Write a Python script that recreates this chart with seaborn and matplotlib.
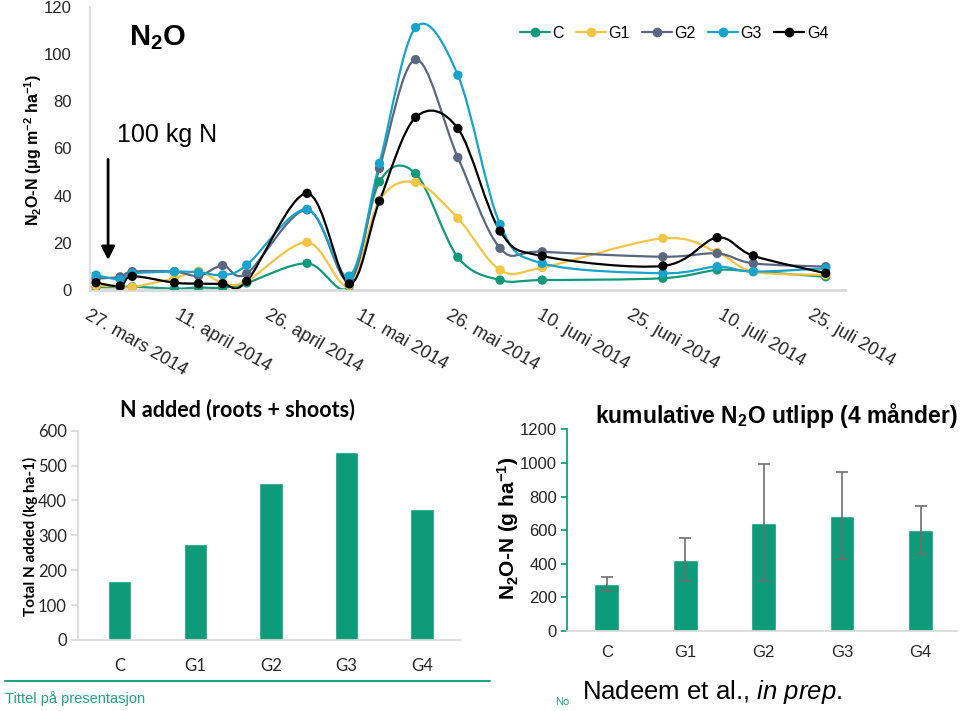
import numpy as np
import pandas as pd
import matplotlib
matplotlib.use("Agg")
from matplotlib import pyplot as plt
from matplotlib.path import Path
from matplotlib.patches import PathPatch
from matplotlib.lines import Line2D
import seaborn as sns

# ---- data ----
sample_dates = ["2014-03-28", "2014-04-01", "2014-04-03", "2014-04-10", "2014-04-14", "2014-04-18",
                "2014-04-22", "2014-05-02", "2014-05-09", "2014-05-14", "2014-05-20", "2014-05-27",
                "2014-06-03", "2014-06-10", "2014-06-30", "2014-07-09", "2014-07-15", "2014-07-27"]
flux_C = [1.2, 1.2, 1.4, 0.6, 1.0, 1.0, 3.0, 11.3, 1.5, 45.9, 49.4, 13.9, 4.2, 4.2, 5.0, 8.5, 7.8, 5.6]
flux_G1 = [1.8, 1.5, 1.2, 5.0, 8.0, 3.0, 3.8, 20.2, 2.0, 38.0, 45.6, 30.4, 8.5, 9.5, 21.9, 16.0, 7.8, 6.4]
flux_G2 = [4.8, 5.6, 7.8, 7.8, 6.0, 10.4, 7.0, 34.0, 4.2, 51.6, 97.7, 56.2, 17.7, 16.2, 14.1, 15.5, 11.3, 9.9]
flux_G3 = [6.3, 4.5, 7.0, 7.8, 7.5, 6.4, 10.6, 34.2, 5.9, 53.7, 111.3, 91.1, 27.8, 11.3, 7.1, 9.9, 7.8, 9.2]
flux_G4 = [3.1, 1.7, 5.8, 3.1, 2.7, 2.7, 3.7, 41.0, 2.6, 37.7, 73.2, 68.5, 25.0, 14.4, 10.2, 22.2, 14.5, 7.1]

tick_dates = ["2014-03-27", "2014-04-11", "2014-04-26", "2014-05-11", "2014-05-26",
              "2014-06-10", "2014-06-25", "2014-07-10", "2014-07-25"]
tick_labels = ["27. mars 2014", "11. april 2014", "26. april 2014", "11. mai 2014", "26. mai 2014",
               "10. juni 2014", "25. juni 2014", "10. juli 2014", "25. juli 2014"]

treatments = ["C", "G1", "G2", "G3", "G4"]
n_added = [170, 275, 450, 540, 375]
n2o_cum = [280, 425, 645, 685, 600]
n2o_err = [40, 130, 348, 258, 143]

colors = {"C": "#12997a", "G1": "#f5c444", "G2": "#5a6780", "G3": "#17a3cb", "G4": "#000000"}
teal = "#0e9b7a"
axis_grey = "#d9d9d9"

sns.set_theme(style="white")
plt.rcParams["font.family"] = ["Liberation Sans", "DejaVu Sans"]
plt.rcParams["mathtext.fontset"] = "custom"
plt.rcParams["mathtext.rm"] = "Liberation Sans"
plt.rcParams["mathtext.bf"] = "Liberation Sans:bold"
plt.rcParams["mathtext.it"] = "Liberation Sans:italic"
plt.rcParams["text.color"] = "black"

start = pd.Timestamp("2014-03-27")
days = (pd.to_datetime(sample_dates) - start).days.to_numpy()
tick_days = (pd.to_datetime(tick_dates) - start).days.to_numpy()

series = {"C": flux_C, "G1": flux_G1, "G2": flux_G2, "G3": flux_G3, "G4": flux_G4}
df = pd.concat([pd.DataFrame({"day": days, "flux": v, "treatment": k}) for k, v in series.items()])


def smooth_path(x, y):
    # Excel-style smoothed line: Catmull-Rom segments as cubic Bezier curves
    pts = np.column_stack([x, y]).astype(float)
    ext = np.vstack([pts[0], pts, pts[-1]])
    verts, codes = [pts[0]], [Path.MOVETO]
    for i in range(len(pts) - 1):
        p0, p1, p2, p3 = ext[i], ext[i + 1], ext[i + 2], ext[i + 3]
        verts += [p1 + (p2 - p0) / 6, p2 - (p3 - p1) / 6, p2]
        codes += [Path.CURVE4] * 3
    return Path(verts, codes)


fig = plt.figure(figsize=(9.6, 7.11), dpi=100)

# ---------- top: N2O flux time series ----------
ax = fig.add_axes([90 / 960, 1 - 290 / 711, 755 / 960, 283 / 711])
for k, v in series.items():
    ax.add_patch(PathPatch(smooth_path(days, v), facecolor="none", edgecolor=colors[k], lw=1.6, zorder=2))
sns.scatterplot(data=df, x="day", y="flux", hue="treatment", palette=colors, s=45,
                edgecolor="none", legend=False, ax=ax, zorder=3)
ax.set_xlim(0, 125.2)
ax.set_ylim(0, 120)
ax.set_yticks(range(0, 121, 20))
ax.set_xticks(tick_days)
ax.set_xticklabels(tick_labels, rotation=-30, ha="left", va="top", rotation_mode="anchor", fontsize=13)
ax.tick_params(axis="x", length=0, pad=12)
ax.tick_params(axis="y", length=0, pad=13, labelsize=12)
ax.set_xlabel("")
ax.set_ylabel("")
for s in ["top", "right"]:
    ax.spines[s].set_visible(False)
ax.spines["left"].set_color(axis_grey)
ax.spines["bottom"].set_color(axis_grey)
ax.spines["bottom"].set_linewidth(2)
ax.annotate("", xy=(3, 11.5), xytext=(3, 56.5),
            arrowprops=dict(arrowstyle="-|>", color="black", lw=2, mutation_scale=20))

handles = [Line2D([], [], color=colors[t], marker="o", markersize=6, lw=1.6) for t in treatments]
fig.legend(handles, treatments, loc="center", bbox_to_anchor=(674 / 960, 1 - 33 / 711), ncol=5,
           frameon=False, fontsize=11.5, handlelength=1.9, handletextpad=0.15, columnspacing=0.75)

fig.text(33 / 960, 1 - 150 / 711, "N$_\\mathbf{2}$O-N (μg m$^\\mathbf{-2}$ ha$^\\mathbf{-1}$)",
         rotation=90, ha="center", va="center", fontsize=11.5, fontweight="bold")
fig.text(157 / 960, 1 - 38 / 711, "N$_\\mathbf{2}$O", ha="center", va="center",
         fontsize=21, fontweight="bold")
fig.text(167 / 960, 1 - 135 / 711, "100 kg N", ha="center", va="center", fontsize=18)

# ---------- bottom left: N added ----------
axl = fig.add_axes([78 / 960, 1 - 640 / 711, 382 / 960, 209.3 / 711])
sns.barplot(x=treatments, y=n_added, color=teal, saturation=1, width=0.31, ax=axl)
axl.set_xlim(-0.55, 4.5)
axl.set_ylim(0, 600)
axl.set_yticks(range(0, 601, 100))
for s in ["top", "right"]:
    axl.spines[s].set_visible(False)
axl.spines["left"].set_color(axis_grey)
axl.spines["bottom"].set_color(axis_grey)
axl.tick_params(axis="y", length=5, color=axis_grey, pad=3, left=True)
axl.tick_params(axis="x", length=0, pad=13)
for lab in axl.get_xticklabels() + axl.get_yticklabels():
    lab.set_fontfamily("Lato")
    lab.set_fontsize(12)
fig.text(30 / 960, 1 - 536 / 711, "Total N added (kg ha-1)", rotation=90, ha="center", va="center",
         fontsize=11, fontweight="bold", family="Lato")
fig.text(237 / 960, 1 - 410 / 711, "N added (roots + shoots)", ha="center", va="center",
         fontsize=15.5, fontweight="bold", family="Lato")

# ---------- bottom right: cumulative N2O ----------
axr = fig.add_axes([566.7 / 960, 1 - 631 / 711, 390 / 960, 201.7 / 711])
sns.barplot(x=treatments, y=n2o_cum, color=teal, saturation=1, width=0.315, ax=axr)
axr.errorbar(treatments, n2o_cum, yerr=n2o_err, fmt="none", ecolor="#6e6e6e", elinewidth=1.2,
             capsize=4, capthick=1.2)
axr.set_xlim(-0.51, 4.46)
axr.set_ylim(0, 1200)
axr.set_yticks(range(0, 1201, 200))
for s in ["top", "right"]:
    axr.spines[s].set_visible(False)
axr.spines["left"].set_color(teal)
axr.spines["bottom"].set_color(axis_grey)
axr.tick_params(axis="y", length=4, color=teal, pad=3, left=True, labelsize=12)
axr.tick_params(axis="x", length=0, pad=10, labelsize=12)
fig.text(508 / 960, 1 - 528 / 711, "N$_\\mathbf{2}$O-N (g ha$^\\mathbf{-1}$)", rotation=90,
         ha="center", va="center", fontsize=15, fontweight="bold")
fig.text(776 / 960, 1 - 416 / 711, "kumulative N$_\\mathbf{2}$O utlipp (4 månder)", ha="center",
         va="center", fontsize=16.5, fontweight="bold")

# ---------- footer ----------
fig.add_artist(Line2D([5 / 960, 490 / 960], [1 - 681 / 711] * 2, transform=fig.transFigure,
                      color="#1fa386", lw=1.5))
fig.text(5 / 960, 1 - 699 / 711, "Tittel på presentasjon", ha="left", va="center", fontsize=10.5,
         color="#1fa386")
fig.text(562 / 960, 1 - 702 / 711, "No", ha="center", va="center", fontsize=8, color="#1fa386")
fig.text(582 / 960, 1 - 692 / 711, "Nadeem et al., $\\mathit{in\\ prep.}$", ha="left", va="center",
         fontsize=18.5)

fig.savefig("out.png", dpi=100)
